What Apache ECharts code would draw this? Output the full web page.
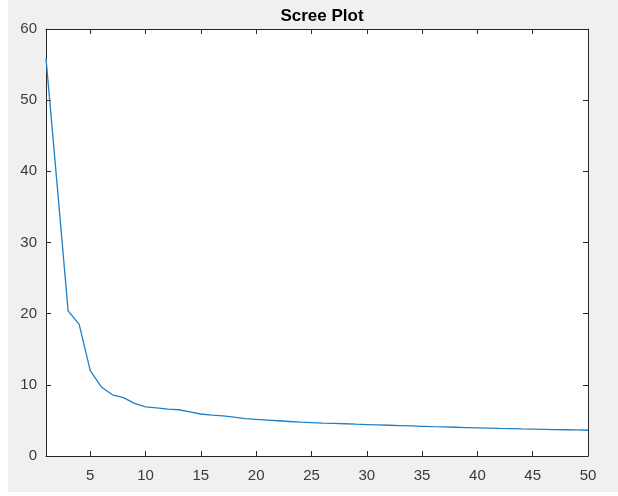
<!DOCTYPE html>
<html>
<head>
<meta charset="utf-8">
<script src="https://cdn.jsdelivr.net/npm/echarts@6/dist/echarts.min.js"></script>
<style>html,body{margin:0;padding:0;background:#fff;}#c{width:618px;height:496px;}</style>
</head>
<body>
<div id="c"></div>
<script>
const components = [1,2,3,4,5,6,7,8,9,10,11,12,13,14,15,16,17,18,19,20,21,22,23,24,25,26,27,28,29,30,31,32,33,34,35,36,37,38,39,40,41,42,43,44,45,46,47,48,49,50];
const eigenValues = [55.9,38.2,20.4,18.5,12.0,9.7,8.6,8.2,7.4,6.9,6.75,6.6,6.5,6.2,5.9,5.75,5.65,5.45,5.25,5.15,5.05,4.95,4.85,4.75,4.7,4.63,4.58,4.53,4.47,4.42,4.37,4.32,4.27,4.22,4.17,4.12,4.08,4.04,4.0,3.96,3.92,3.88,3.85,3.81,3.78,3.75,3.72,3.69,3.66,3.62];
const xTicks = [5,10,15,20,25,30,35,40,45,50];
const yTicks = [0,10,20,30,40,50,60];
const titleText = 'Scree Plot';

const axisColor = '#262626';
const labelColor = '#3a3a3a';
const font = 'Arial, "Liberation Sans", Helvetica, sans-serif';
const chart = echarts.init(document.getElementById('c'));
const xBase = {
  type: 'value', min: 1, max: 50,
  splitLine: {show: false},
  axisLine: {show: true, onZero: false, lineStyle: {color: axisColor, width: 1}},
};
const yBase = {
  type: 'value', min: 0, max: 60, interval: 10,
  splitLine: {show: false},
  axisLine: {show: true, onZero: false, lineStyle: {color: axisColor, width: 1}},
};
chart.setOption({
  backgroundColor: '#ffffff',
  animation: false,
  graphic: [{type: 'rect', left: 8, top: 0, shape: {width: 610, height: 492}, style: {fill: '#f0f0f0'}, z: -10, silent: true}],
  title: {
    text: titleText, left: 317, top: 3, textAlign: 'center',
    textStyle: {fontFamily: font, fontWeight: 'bold', fontSize: 17, color: '#000'}
  },
  grid: {left: 46, right: 30, top: 29, bottom: 40, containLabel: false, show: true, backgroundColor: '#ffffff', borderWidth: 0},
  xAxis: [
    Object.assign({}, xBase, {
      position: 'bottom',
      axisTick: {show: true, inside: true, length: 5, customValues: xTicks, lineStyle: {color: axisColor}},
      axisLabel: {show: true, customValues: xTicks, margin: 12, color: labelColor, fontFamily: font, fontSize: 15}
    }),
    Object.assign({}, xBase, {
      position: 'top',
      axisTick: {show: true, inside: true, length: 5, customValues: xTicks, lineStyle: {color: axisColor}},
      axisLabel: {show: false}
    })
  ],
  yAxis: [
    Object.assign({}, yBase, {
      position: 'left',
      axisTick: {show: true, inside: true, length: 5, lineStyle: {color: axisColor}},
      axisLabel: {show: true, margin: 9, color: labelColor, fontFamily: font, fontSize: 15}
    }),
    Object.assign({}, yBase, {
      position: 'right',
      axisTick: {show: true, inside: true, length: 5, lineStyle: {color: axisColor}},
      axisLabel: {show: false}
    })
  ],
  series: [{
    type: 'line',
    data: components.map((c, i) => [c, eigenValues[i]]),
    showSymbol: false,
    lineStyle: {color: '#1f80c8', width: 1.3},
    clip: true
  }]
});
</script>
</body>
</html>
